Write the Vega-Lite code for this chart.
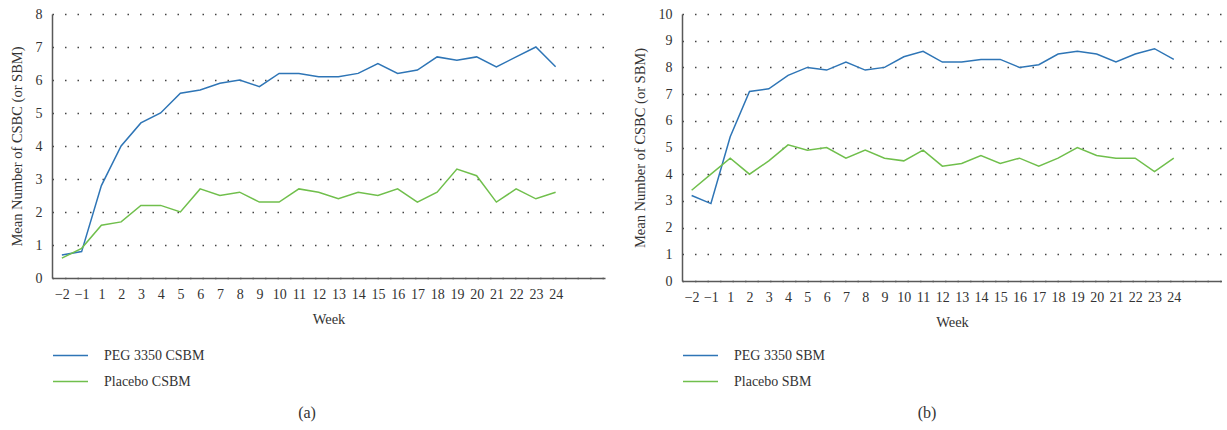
{
  "$schema": "https://vega.github.io/schema/vega-lite/v6.json",
  "padding": {"left": 9, "top": 7, "right": 0, "bottom": 5},
  "background": "white",
  "config": {
    "font": "Liberation Serif",
    "view": {"stroke": null},
    "axis": {
      "labelFont": "Liberation Serif",
      "titleFont": "Liberation Serif",
      "labelFontSize": 14, "titleFontSize": 14.5, "titleFontWeight": "normal",
      "labelColor": "#333333", "titleColor": "#333333",
      "ticks": false, "tickSize": 0,
      "domainColor": "#595959", "domainWidth": 1.5
    },
    "legend": {
      "labelFont": "Liberation Serif",
      "labelFontSize": 14, "labelColor": "#333333",
      "symbolType": "stroke", "symbolSize": 1225, "symbolStrokeWidth": 1.5,
      "labelOffset": 15, "rowPadding": -10, "padding": 0, "offset": 0
    },
    "title": {"font": "Liberation Serif", "fontSize": 16, "fontWeight": "normal", "color": "#333333", "offset": 16}
  },
  "datasets": {
    "a": [
      {"week": -2, "series": "PEG 3350 CSBM", "value": 0.7},
      {"week": -1, "series": "PEG 3350 CSBM", "value": 0.8},
      {"week": 1, "series": "PEG 3350 CSBM", "value": 2.8},
      {"week": 2, "series": "PEG 3350 CSBM", "value": 4.0},
      {"week": 3, "series": "PEG 3350 CSBM", "value": 4.7},
      {"week": 4, "series": "PEG 3350 CSBM", "value": 5.0},
      {"week": 5, "series": "PEG 3350 CSBM", "value": 5.6},
      {"week": 6, "series": "PEG 3350 CSBM", "value": 5.7},
      {"week": 7, "series": "PEG 3350 CSBM", "value": 5.9},
      {"week": 8, "series": "PEG 3350 CSBM", "value": 6.0},
      {"week": 9, "series": "PEG 3350 CSBM", "value": 5.8},
      {"week": 10, "series": "PEG 3350 CSBM", "value": 6.2},
      {"week": 11, "series": "PEG 3350 CSBM", "value": 6.2},
      {"week": 12, "series": "PEG 3350 CSBM", "value": 6.1},
      {"week": 13, "series": "PEG 3350 CSBM", "value": 6.1},
      {"week": 14, "series": "PEG 3350 CSBM", "value": 6.2},
      {"week": 15, "series": "PEG 3350 CSBM", "value": 6.5},
      {"week": 16, "series": "PEG 3350 CSBM", "value": 6.2},
      {"week": 17, "series": "PEG 3350 CSBM", "value": 6.3},
      {"week": 18, "series": "PEG 3350 CSBM", "value": 6.7},
      {"week": 19, "series": "PEG 3350 CSBM", "value": 6.6},
      {"week": 20, "series": "PEG 3350 CSBM", "value": 6.7},
      {"week": 21, "series": "PEG 3350 CSBM", "value": 6.4},
      {"week": 22, "series": "PEG 3350 CSBM", "value": 6.7},
      {"week": 23, "series": "PEG 3350 CSBM", "value": 7.0},
      {"week": 24, "series": "PEG 3350 CSBM", "value": 6.4},
      {"week": -2, "series": "Placebo CSBM", "value": 0.6},
      {"week": -1, "series": "Placebo CSBM", "value": 0.9},
      {"week": 1, "series": "Placebo CSBM", "value": 1.6},
      {"week": 2, "series": "Placebo CSBM", "value": 1.7},
      {"week": 3, "series": "Placebo CSBM", "value": 2.2},
      {"week": 4, "series": "Placebo CSBM", "value": 2.2},
      {"week": 5, "series": "Placebo CSBM", "value": 2.0},
      {"week": 6, "series": "Placebo CSBM", "value": 2.7},
      {"week": 7, "series": "Placebo CSBM", "value": 2.5},
      {"week": 8, "series": "Placebo CSBM", "value": 2.6},
      {"week": 9, "series": "Placebo CSBM", "value": 2.3},
      {"week": 10, "series": "Placebo CSBM", "value": 2.3},
      {"week": 11, "series": "Placebo CSBM", "value": 2.7},
      {"week": 12, "series": "Placebo CSBM", "value": 2.6},
      {"week": 13, "series": "Placebo CSBM", "value": 2.4},
      {"week": 14, "series": "Placebo CSBM", "value": 2.6},
      {"week": 15, "series": "Placebo CSBM", "value": 2.5},
      {"week": 16, "series": "Placebo CSBM", "value": 2.7},
      {"week": 17, "series": "Placebo CSBM", "value": 2.3},
      {"week": 18, "series": "Placebo CSBM", "value": 2.6},
      {"week": 19, "series": "Placebo CSBM", "value": 3.3},
      {"week": 20, "series": "Placebo CSBM", "value": 3.1},
      {"week": 21, "series": "Placebo CSBM", "value": 2.3},
      {"week": 22, "series": "Placebo CSBM", "value": 2.7},
      {"week": 23, "series": "Placebo CSBM", "value": 2.4},
      {"week": 24, "series": "Placebo CSBM", "value": 2.6}
    ],
    "b": [
      {"week": -2, "series": "PEG 3350 SBM", "value": 3.2},
      {"week": -1, "series": "PEG 3350 SBM", "value": 2.9},
      {"week": 1, "series": "PEG 3350 SBM", "value": 5.4},
      {"week": 2, "series": "PEG 3350 SBM", "value": 7.1},
      {"week": 3, "series": "PEG 3350 SBM", "value": 7.2},
      {"week": 4, "series": "PEG 3350 SBM", "value": 7.7},
      {"week": 5, "series": "PEG 3350 SBM", "value": 8.0},
      {"week": 6, "series": "PEG 3350 SBM", "value": 7.9},
      {"week": 7, "series": "PEG 3350 SBM", "value": 8.2},
      {"week": 8, "series": "PEG 3350 SBM", "value": 7.9},
      {"week": 9, "series": "PEG 3350 SBM", "value": 8.0},
      {"week": 10, "series": "PEG 3350 SBM", "value": 8.4},
      {"week": 11, "series": "PEG 3350 SBM", "value": 8.6},
      {"week": 12, "series": "PEG 3350 SBM", "value": 8.2},
      {"week": 13, "series": "PEG 3350 SBM", "value": 8.2},
      {"week": 14, "series": "PEG 3350 SBM", "value": 8.3},
      {"week": 15, "series": "PEG 3350 SBM", "value": 8.3},
      {"week": 16, "series": "PEG 3350 SBM", "value": 8.0},
      {"week": 17, "series": "PEG 3350 SBM", "value": 8.1},
      {"week": 18, "series": "PEG 3350 SBM", "value": 8.5},
      {"week": 19, "series": "PEG 3350 SBM", "value": 8.6},
      {"week": 20, "series": "PEG 3350 SBM", "value": 8.5},
      {"week": 21, "series": "PEG 3350 SBM", "value": 8.2},
      {"week": 22, "series": "PEG 3350 SBM", "value": 8.5},
      {"week": 23, "series": "PEG 3350 SBM", "value": 8.7},
      {"week": 24, "series": "PEG 3350 SBM", "value": 8.3},
      {"week": -2, "series": "Placebo SBM", "value": 3.4},
      {"week": -1, "series": "Placebo SBM", "value": 4.0},
      {"week": 1, "series": "Placebo SBM", "value": 4.6},
      {"week": 2, "series": "Placebo SBM", "value": 4.0},
      {"week": 3, "series": "Placebo SBM", "value": 4.5},
      {"week": 4, "series": "Placebo SBM", "value": 5.1},
      {"week": 5, "series": "Placebo SBM", "value": 4.9},
      {"week": 6, "series": "Placebo SBM", "value": 5.0},
      {"week": 7, "series": "Placebo SBM", "value": 4.6},
      {"week": 8, "series": "Placebo SBM", "value": 4.9},
      {"week": 9, "series": "Placebo SBM", "value": 4.6},
      {"week": 10, "series": "Placebo SBM", "value": 4.5},
      {"week": 11, "series": "Placebo SBM", "value": 4.9},
      {"week": 12, "series": "Placebo SBM", "value": 4.3},
      {"week": 13, "series": "Placebo SBM", "value": 4.4},
      {"week": 14, "series": "Placebo SBM", "value": 4.7},
      {"week": 15, "series": "Placebo SBM", "value": 4.4},
      {"week": 16, "series": "Placebo SBM", "value": 4.6},
      {"week": 17, "series": "Placebo SBM", "value": 4.3},
      {"week": 18, "series": "Placebo SBM", "value": 4.6},
      {"week": 19, "series": "Placebo SBM", "value": 5.0},
      {"week": 20, "series": "Placebo SBM", "value": 4.7},
      {"week": 21, "series": "Placebo SBM", "value": 4.6},
      {"week": 22, "series": "Placebo SBM", "value": 4.6},
      {"week": 23, "series": "Placebo SBM", "value": 4.1},
      {"week": 24, "series": "Placebo SBM", "value": 4.6}
    ]
  },
  "spacing": 27,
  "resolve": {"scale": {"color": "independent"}},
  "hconcat": [
    {
      "width": 553, "height": 264,
      "data": {"name": "a"},
      "mark": {"type": "line", "strokeWidth": 1.5},
      "encoding": {
        "x": {
          "field": "week", "type": "ordinal",
          "scale": {"type": "point", "padding": 0.5, "domain": [-2, -1, 1, 2, 3, 4, 5, 6, 7, 8, 9, 10, 11, 12, 13, 14, 15, 16, 17, 18, 19, 20, 21, 22, 23, 24, 25, 26]},
          "axis": {"title": "Week", "labelAngle": 0, "labelPadding": 9, "titlePadding": 11, "grid": false,
                   "labelExpr": "datum.value > 24 ? '' : (datum.value < 0 ? '\u2212' + abs(datum.value) : datum.label)"}
        },
        "y": {
          "field": "value", "type": "quantitative",
          "scale": {"domain": [0, 8], "nice": false},
          "axis": {"title": "Mean Number of CSBC (or SBM)", "values": [0, 1, 2, 3, 4, 5, 6, 7, 8],
                   "grid": true, "gridDash": [1.5, 11], "gridColor": "#444444", "gridWidth": 1.3,
                   "labelPadding": 10, "titlePadding": 11}
        },
        "color": {
          "field": "series", "type": "nominal",
          "scale": {"domain": ["PEG 3350 CSBM", "Placebo CSBM"], "range": ["#2e75b6", "#70bf4c"]},
          "legend": {"orient": "none", "legendX": 0, "legendY": 323, "title": null}
        }
      },
      "title": {"text": "(a)", "orient": "bottom", "frame": "bounds", "anchor": "middle"}
    },
    {
      "width": 540, "height": 267,
      "data": {"name": "b"},
      "mark": {"type": "line", "strokeWidth": 1.5},
      "encoding": {
        "x": {
          "field": "week", "type": "ordinal",
          "scale": {"type": "point", "padding": 0.5, "domain": [-2, -1, 1, 2, 3, 4, 5, 6, 7, 8, 9, 10, 11, 12, 13, 14, 15, 16, 17, 18, 19, 20, 21, 22, 23, 24, 25, 26]},
          "axis": {"title": "Week", "labelAngle": 0, "labelPadding": 9, "titlePadding": 11, "grid": false,
                   "labelExpr": "datum.value > 24 ? '' : (datum.value < 0 ? '\u2212' + abs(datum.value) : datum.label)"}
        },
        "y": {
          "field": "value", "type": "quantitative",
          "scale": {"domain": [0, 10], "nice": false},
          "axis": {"title": "Mean Number of CSBC (or SBM)", "values": [0, 1, 2, 3, 4, 5, 6, 7, 8, 9, 10],
                   "grid": true, "gridDash": [1.5, 11], "gridColor": "#444444", "gridWidth": 1.3,
                   "labelPadding": 10, "titlePadding": 11}
        },
        "color": {
          "field": "series", "type": "nominal",
          "scale": {"domain": ["PEG 3350 SBM", "Placebo SBM"], "range": ["#2e75b6", "#70bf4c"]},
          "legend": {"orient": "none", "legendX": 0, "legendY": 323, "title": null}
        }
      },
      "title": {"text": "(b)", "orient": "bottom", "frame": "bounds", "anchor": "middle"}
    }
  ]
}
